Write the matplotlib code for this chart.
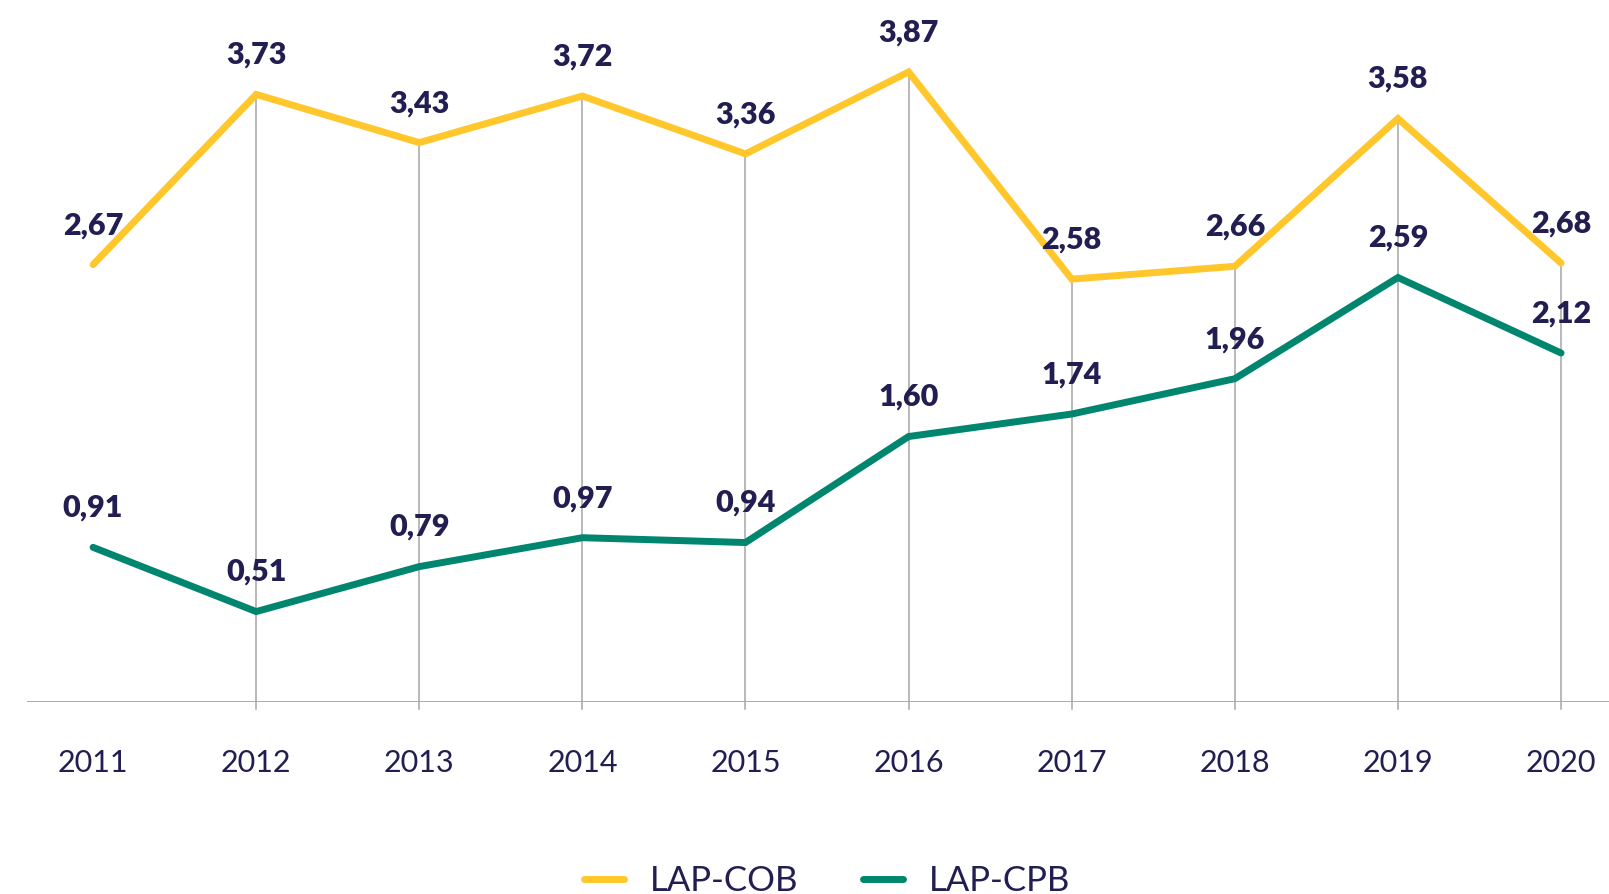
import matplotlib
matplotlib.use("Agg")
import matplotlib.pyplot as plt
from matplotlib.lines import Line2D

years = ["2011", "2012", "2013", "2014", "2015", "2016", "2017", "2018", "2019", "2020"]
lap_cob = [2.67, 3.73, 3.43, 3.72, 3.36, 3.87, 2.58, 2.66, 3.58, 2.68]
lap_cpb = [0.91, 0.51, 0.79, 0.97, 0.94, 1.60, 1.74, 1.96, 2.59, 2.12]

YELLOW = "#FFC72C"
GREEN = "#00866E"
NAVY = "#231E52"
GRID = "#A6A6A6"

plt.rcParams["font.family"] = ["Lato", "DejaVu Sans"]

fig = plt.figure(figsize=(16.09, 8.94), dpi=100)
ax = fig.add_axes([27 / 1609, 1 - 702 / 894, 1582 / 1609, 702 / 894])

x = list(range(len(years)))

# drop lines from the top series down to the axis (none for the first year)
for i in x[1:]:
    ax.plot([i, i], [-0.095, max(lap_cob[i], lap_cpb[i])], color=GRID, lw=1.1,
            zorder=1, clip_on=False)

ax.plot(x, lap_cob, color=YELLOW, lw=5, solid_capstyle="round",
        solid_joinstyle="miter", zorder=3)
ax.plot(x, lap_cpb, color=GREEN, lw=5, solid_capstyle="round",
        solid_joinstyle="miter", zorder=3)

for series in (lap_cob, lap_cpb):
    for i, v in zip(x, series):
        ax.annotate(f"{v:.2f}".replace(".", ","), (i, v), xytext=(0, 28.5),
                    textcoords="offset points", ha="center", va="center",
                    fontsize=22, fontweight="heavy", color=NAVY, zorder=4)

ax.set_xlim(-0.405, 9.294)
ax.set_ylim(-0.053, 4.318)
ax.axhline(-0.053, color=GRID, lw=1.3, zorder=2)

for s in ax.spines.values():
    s.set_visible(False)
ax.set_yticks([])
ax.set_xticks(x)
ax.set_xticklabels(years, fontsize=22, color=NAVY)
ax.tick_params(axis="x", length=0, pad=34)

handles = [Line2D([], [], color=YELLOW, lw=5, solid_capstyle="round"),
           Line2D([], [], color=GREEN, lw=5, solid_capstyle="round")]
fig.legend(handles, ["LAP-COB", "LAP-CPB"], loc="center",
           bbox_to_anchor=(0.514, 1 - 881 / 894), ncol=2, frameon=False,
           fontsize=25, labelcolor=NAVY, handlelength=1.15, handletextpad=0.75,
           columnspacing=1.85)

fig.savefig("out.png", dpi=100)
